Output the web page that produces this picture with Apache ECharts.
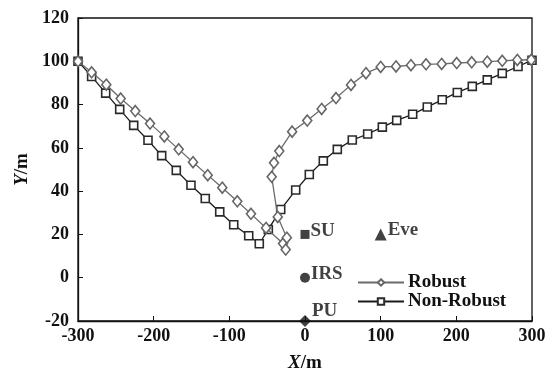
<!DOCTYPE html>
<html>
<head>
<meta charset="utf-8">
<script src="https://cdn.jsdelivr.net/npm/echarts@6/dist/echarts.min.js"></script>
<style>html,body{margin:0;padding:0;background:#fff}#c{width:558px;height:372px}</style>
</head>
<body>
<div id="c"></div>
<script>
var robustX = [-300,-282,-262.6,-243.6,-224.3,-204.8,-185.9,-166.9,-148,-128.6,-109.3,-89.5,-71.4,-51.5,-29,-25.5,-24,-36,-44,-41,-34,-17,3,22,41,60.8,80.6,100,120.3,140,160,180.6,200.5,220.3,240.9,260.7,280.6,299];
var robustY = [100,94.9,89.2,82.8,77,71.2,65.3,59.3,53.4,47.4,41.6,35.3,29.5,23,15.8,13,18.5,28.1,46.6,53.1,58.5,67.5,72.6,78,83,89.1,94.5,97.4,97.6,98.2,98.6,98.8,99.2,99.5,99.8,100.2,100.6,100.7];
var nonX = [-300,-282,-263.4,-244.9,-226.4,-207.5,-189.4,-170.1,-150.7,-131.8,-112.7,-94.2,-74.4,-60.4,-48.5,-32.1,-12.3,5.7,24.2,42.7,62.5,82.8,102.2,121.2,142.3,161.6,181.4,201.3,221.1,240.9,260.7,281.5,300];
var nonY = [100,93,85.3,77.8,70.4,63.5,56.4,49.6,42.7,36.6,30.4,24.5,19.4,15.7,22.3,31.5,40.5,47.7,54,59.3,63.6,66.4,69.6,72.7,75.5,78.9,82.2,85.6,88.4,91.4,94.4,97.6,100.5];
var nodeNames = ['SU','IRS','PU','Eve'];
var nodeX = [0,0,0,100];
var nodeY = [20,0,-20,20];
var nodeSymbols = ['rect','circle','diamond','triangle'];
var nodeSizes = [9,10,12,12];
var nodeLabelDy = [-3,-4,-10,-4];

function pairs(xs, ys){ return xs.map(function(x,i){ return [x, ys[i]]; }); }
var FONT = 'Liberation Serif';
var INK = '#111';
var txt = {fontFamily: FONT, fontWeight: 'bold', fontSize: 18, color: INK};

var nodeSeries = nodeNames.map(function(n,i){
  return {
    type: 'scatter', name: n, data: [[nodeX[i], nodeY[i]]],
    symbol: nodeSymbols[i], symbolSize: nodeSizes[i],
    itemStyle: {color: '#111'},
    label: {show: true, formatter: n, position: 'right', distance: 1, offset: [0, nodeLabelDy[i]],
      fontFamily: FONT, fontWeight: 'bold', fontSize: 19, color: INK},
    z: 5
  };
});

var nameRich = {
  i: {fontFamily: FONT, fontWeight: 'bold', fontStyle: 'italic', fontSize: 19, color: INK},
  n: {fontFamily: FONT, fontWeight: 'bold', fontSize: 19, color: INK}
};

var chart = echarts.init(document.getElementById('c'), null, {renderer: 'canvas'});
chart.setOption({
  animation: false,
  backgroundColor: '#fff',
  grid: {left: 78, right: 26, top: 18, bottom: 51, show: true, borderColor: '#111', borderWidth: 1.3,
    backgroundColor: 'transparent', containLabel: false, outerBoundsMode: 'none'},
  legend: {
    data: ['Robust','Non-Robust'], orient: 'vertical', left: 352, top: 268,
    itemWidth: 46, itemHeight: 8, itemGap: 0,
    textStyle: {fontFamily: FONT, fontWeight: 'bold', fontSize: 19, color: INK, padding: [0,0,0,-1]}
  },
  xAxis: {
    type: 'value', min: -300, max: 300, interval: 100,
    name: '{i|X}{n|/m}', nameLocation: 'middle', nameGap: 33,
    nameTextStyle: {rich: nameRich},
    axisLine: {onZero: false, lineStyle: {color: '#111', width: 1.3}},
    axisTick: {inside: true, length: 5, lineStyle: {color: '#111'}},
    axisLabel: Object.assign({margin: 6}, txt),
    splitLine: {show: false}
  },
  yAxis: {
    type: 'value', min: -20, max: 120, interval: 20,
    name: '{i|Y}{n|/m}', nameLocation: 'middle', nameGap: 44,
    nameTextStyle: {rich: nameRich},
    axisLine: {onZero: false, lineStyle: {color: '#111', width: 1.3}},
    axisTick: {inside: true, length: 5, lineStyle: {color: '#111'}},
    axisLabel: Object.assign({margin: 9}, txt),
    splitLine: {show: false}
  },
  series: [
    {
      type: 'line', name: 'Robust', data: pairs(robustX, robustY),
      symbol: 'diamond', symbolSize: [9, 11], showAllSymbol: true,
      lineStyle: {color: '#6b6b6b', width: 1.3},
      itemStyle: {color: '#fff', borderColor: '#666', borderWidth: 1.6},
      z: 3
    },
    {
      type: 'line', name: 'Non-Robust', data: pairs(nonX, nonY),
      symbol: 'rect', symbolSize: 8, showAllSymbol: true,
      lineStyle: {color: '#1a1a1a', width: 1.3},
      itemStyle: {color: '#fff', borderColor: '#2a2a2a', borderWidth: 1.6},
      z: 2
    }
  ].concat(nodeSeries)
});
</script>
</body>
</html>
